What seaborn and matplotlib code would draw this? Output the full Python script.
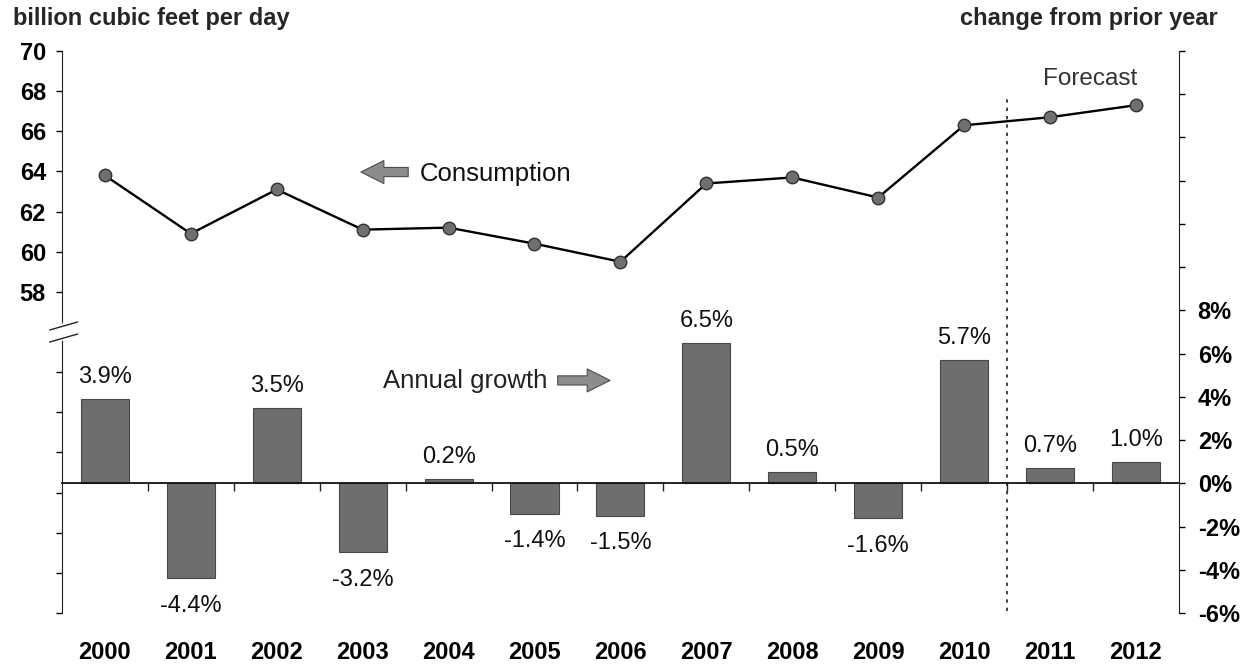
import numpy as np
import matplotlib
matplotlib.use("Agg")
import matplotlib.pyplot as plt
from matplotlib.ticker import FixedLocator
import seaborn as sns

# values
years = ["2000", "2001", "2002", "2003", "2004", "2005", "2006",
         "2007", "2008", "2009", "2010", "2011", "2012"]
consumption = [63.8, 60.9, 63.1, 61.1, 61.2, 60.4, 59.5,
               63.4, 63.7, 62.7, 66.3, 66.7, 67.3]
growth = [3.9, -4.4, 3.5, -3.2, 0.2, -1.4, -1.5,
          6.5, 0.5, -1.6, 5.7, 0.7, 1.0]
left_ticks = [42, 44, 46, 48, 50, 52, 54, 58, 60, 62, 64, 66, 68, 70]
right_ticks = list(range(-6, 21, 2))

sns.set_style("ticks")
plt.rcParams["font.family"] = ["Liberation Sans", "DejaVu Sans"]

fig = plt.figure(figsize=(12.54, 6.65), dpi=100)
ax = fig.add_axes([0.0494, 0.0782, 0.8907, 0.8451])
ax2 = ax.twinx()

# consumption line (left axis)
pos = np.arange(len(years))
sns.lineplot(x=pos, y=consumption, ax=ax, color="black", linewidth=1.7,
             marker="o", markersize=9, markerfacecolor="#6f6f6f",
             markeredgecolor="#333333", markeredgewidth=1.0)

# annual growth bars (right axis)
sns.barplot(x=years, y=growth, ax=ax2, color="#6e6e6e", width=0.56,
            saturation=1, edgecolor="#474747", linewidth=0.8)

bars = ax2.containers[0]
pos_labels = [f"{v:.1f}%" if v >= 0 else "" for v in growth]
neg_labels = [f"{v:.1f}%" if v < 0 else "" for v in growth]
ax2.bar_label(bars, labels=pos_labels, padding=8, fontsize=17, color="#111111")
ax2.bar_label(bars, labels=neg_labels, padding=12, fontsize=17, color="#111111")

ax.set_xlim(-0.5, len(years) - 0.5)
ax.set_ylim(42, 70)
ax2.set_ylim(-6, 20)
ax.set_xlabel("")
ax.set_ylabel("")
ax2.set_xlabel("")
ax2.set_ylabel("")

# left axis
ax.set_yticks(left_ticks)
ax.set_yticklabels([str(t) if t >= 58 else "" for t in left_ticks])
ax.tick_params(axis="y", length=4.5, width=1, pad=7, labelsize=17,
               colors="black")
for lab in ax.get_yticklabels():
    lab.set_fontweight("bold")
for s in ["top", "right", "bottom"]:
    ax.spines[s].set_visible(False)
ax.spines["left"].set_color("#222222")

# right axis
ax2.set_yticks(right_ticks)
ax2.set_yticklabels([f"{t}%" if t <= 8 else "" for t in right_ticks])
ax2.tick_params(axis="y", length=4.5, width=1, pad=9, labelsize=17,
                colors="black")
for lab in ax2.get_yticklabels():
    lab.set_fontweight("bold")
for s in ["top", "left"]:
    ax2.spines[s].set_visible(False)
ax2.spines["right"].set_color("#222222")

# x axis: year labels at the bottom, zero line with boundary ticks
ax.xaxis.set_minor_locator(FixedLocator(np.arange(0.5, len(years) - 1, 1)))
ax.tick_params(axis="x", which="major", length=0, pad=20, labelsize=17,
               colors="black")
ax.tick_params(axis="x", which="minor", length=0)
for lab in ax.get_xticklabels():
    lab.set_fontweight("bold")
ax2.xaxis.set_visible(True)
ax2.spines["bottom"].set_position(("data", 0))
ax2.spines["bottom"].set_linewidth(1.3)
ax2.spines["bottom"].set_color("#111111")
ax2.tick_params(axis="x", which="major", length=0, labelbottom=False)
ax2.tick_params(axis="x", which="minor", bottom=True, length=6, width=1,
                direction="out", color="#222222")

# axis break on the left spine
trans = ax.get_yaxis_transform()
ax.plot([0, 0], [55.7, 56.3], transform=trans, color="white", lw=4,
        clip_on=False, zorder=5)
for yc in (55.7, 56.3):
    ax.plot([-0.011, 0.014], [yc - 0.2, yc + 0.2], transform=trans,
            color="#222222", lw=1, clip_on=False, zorder=6)

# forecast divider
ax2.vlines(10.5, -5.9, 17.8, colors="#222222", linestyles=(0, (2, 3)),
           linewidth=1.2)
ax.text(11.47, 68.3, "Forecast", ha="center", va="baseline", fontsize=17.5,
        color="#333333")

# annotations with block arrows
arrow = dict(arrowstyle="simple,head_length=0.75,head_width=0.75,tail_width=0.3",
             mutation_scale=22, shrinkA=0, shrinkB=0,
             facecolor="#8c8c8c", edgecolor="#4d4d4d", lw=0.8)
ax.annotate("", xy=(2.98, 63.97), xytext=(3.53, 63.97), arrowprops=arrow)
ax.text(3.667, 63.53, "Consumption", ha="left", va="baseline", fontsize=18.5,
        color="#111111")
ax2.annotate("", xy=(5.88, 4.76), xytext=(5.27, 4.76), arrowprops=arrow)
ax2.text(3.236, 4.43, "Annual growth", ha="left", va="baseline", fontsize=18.5,
         color="#222222")

# axis titles
fig.text(13 / 1254, 1 - 18 / 665, "billion cubic feet per day", ha="left",
         va="center", fontsize=17, fontweight="bold")
fig.text(1218 / 1254, 1 - 18 / 665, "change from prior year", ha="right",
         va="center", fontsize=17, fontweight="bold")

fig.savefig("out.png", dpi=100)
